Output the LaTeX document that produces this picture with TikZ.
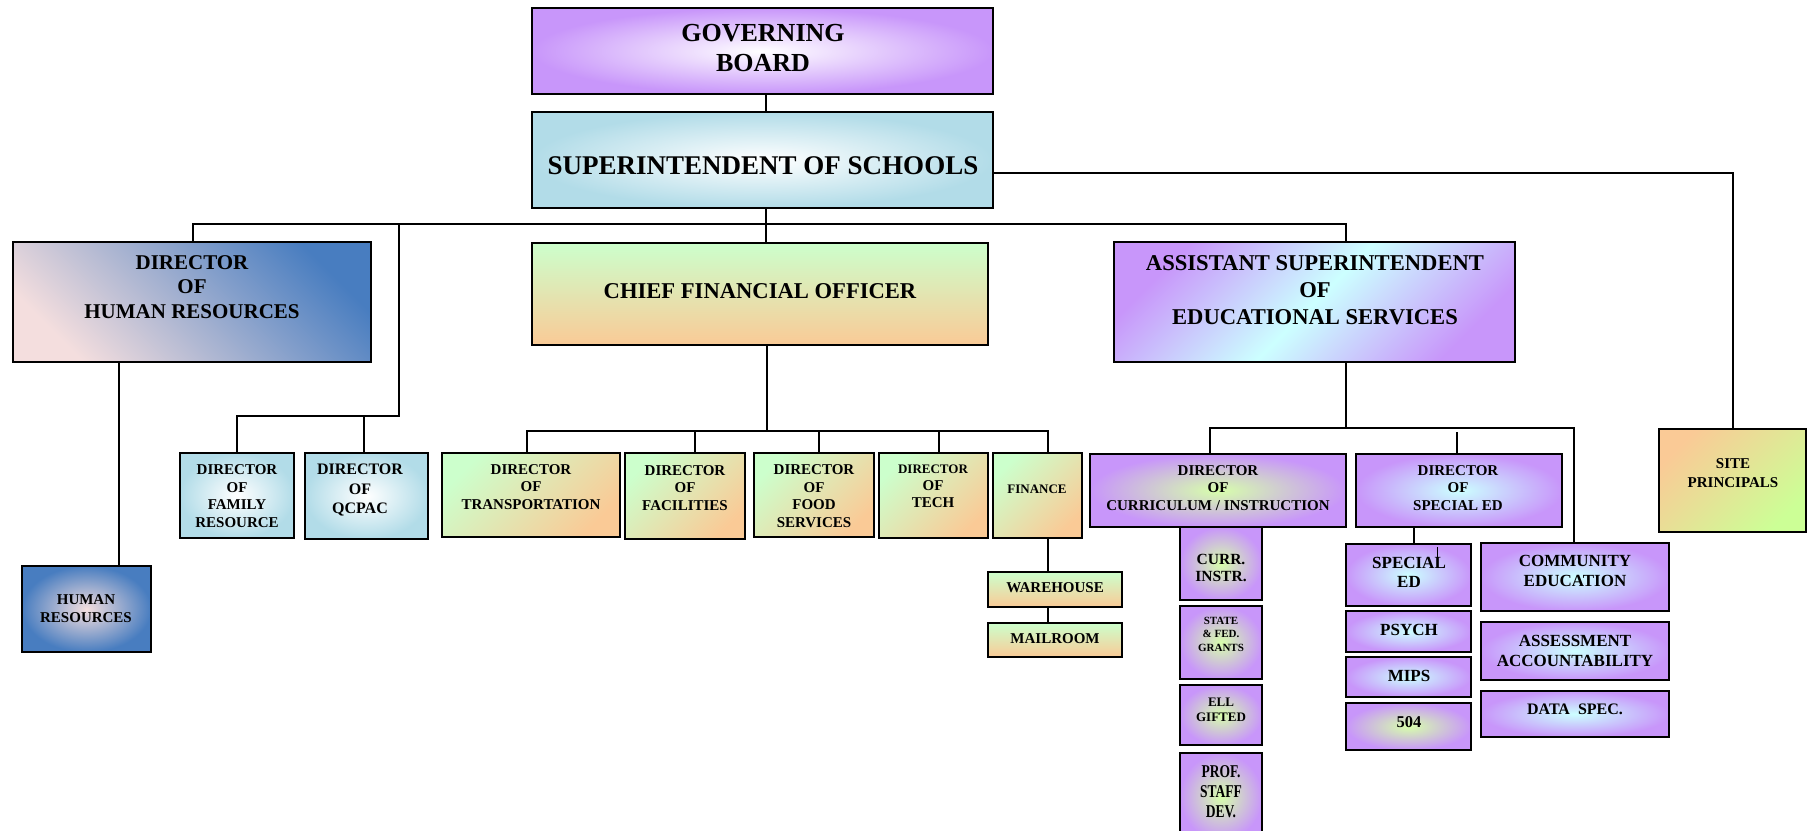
\documentclass[tikz,border=0pt]{standalone}
\usepackage{fontspec}
\setmainfont{Liberation Serif}
\usepackage{graphicx}
\definecolor{pur}{RGB}{200,150,250}
\definecolor{supblue}{RGB}{178,220,232}
\definecolor{hrblue}{RGB}{72,125,192}
\definecolor{hrpink}{RGB}{244,222,222}
\definecolor{lgreen}{RGB}{204,255,204}
\definecolor{lorange}{RGB}{250,202,150}
\definecolor{lcyan}{RGB}{204,255,255}
\definecolor{ygreen}{RGB}{215,255,170}
\definecolor{sgreen}{RGB}{204,255,150}
\definecolor{pblue}{RGB}{178,220,232}
\newcommand\obox[6]{\node[box,#6,minimum width={#4-#2},minimum height={#5-#3}] (#1) at ({(#2+#4)/2},{(#3+#5)/2}) {};}
\newcommand\olbl[6]{\node[lbl,fz={#4}{#5}] (#1) at (#2,#3) {#6};}
\begin{document}
\begin{tikzpicture}[x=1pt,y=-1pt,
  box/.style={draw=black, line width=2pt, rectangle, inner sep=0pt},
  lbl/.style={align=center, inner sep=0pt},
  fz/.style 2 args={font=\bfseries\fontsize{#1}{#2}\selectfont},
  con/.style={draw=black, line width=1.8pt},
  sBoard/.style={inner color=white, outer color=pur},
  sSup/.style={inner color=white, outer color=supblue},
  sHRD/.style={top color=hrblue, bottom color=hrpink, shading angle=-45},
  sCFO/.style={top color=lgreen, bottom color=lorange},
  sSub/.style={top color=lgreen, bottom color=lorange, shading angle=45},
  sSite/.style={top color=lorange, bottom color=sgreen, shading angle=45},
  sAsst/.style={left color=pur, right color=pur, middle color=lcyan, shading angle=45},
  sFam/.style={inner color=white, outer color=pblue},
  sHR/.style={inner color=hrpink, outer color=hrblue},
  sPG/.style={inner color=ygreen, outer color=pur},
  sPC/.style={inner color=lcyan, outer color=pur}]
\useasboundingbox (0,0) rectangle (1812,830);
\clip (0,0) rectangle (1812,830);
% boxes
\obox{board}{532}{8}{993}{94}{sBoard}
\obox{sup}{532}{112}{993}{208}{sSup}
\obox{hrd}{13}{242}{371}{362}{sHRD}
\obox{cfo}{532}{243}{988}{345}{sCFO}
\obox{asst}{1114}{242}{1515}{362}{sAsst}
\obox{fam}{180}{453}{294}{538}{sFam}
\obox{qc}{305}{453}{428}{539}{sFam}
\obox{hr}{22}{566}{151}{652}{sHR}
\obox{trans}{442}{453}{620}{537}{sSub}
\obox{fac}{625}{453}{745}{539}{sSub}
\obox{food}{754}{453}{874}{537}{sSub}
\obox{tech}{879}{453}{988}{538}{sSub}
\obox{fin}{993}{453}{1082}{538}{sSub}
\obox{wh}{988}{572}{1122}{607}{sCFO}
\obox{mail}{988}{623}{1122}{657}{sCFO}
\obox{dcur}{1090}{454}{1346}{527}{sPG}
\obox{dsp}{1356}{454}{1562}{527}{sPC}
\obox{site}{1659}{429}{1806}{532}{sSite}
\obox{ci}{1180}{527}{1262}{600}{sPG}
\obox{sfg}{1180}{606}{1262}{679}{sPG}
\obox{ell}{1180}{685}{1262}{745}{sPG}
\obox{prof}{1180}{753}{1262}{840}{sPG}
\obox{sped}{1346}{544}{1471}{606}{sPC}
\obox{psy}{1346}{611}{1471}{652}{sPC}
\obox{mips}{1346}{657}{1471}{697}{sPC}
\obox{ffour}{1346}{703}{1471}{750}{sPG}
\obox{comm}{1481}{543}{1669}{611}{sPC}
\obox{assess}{1481}{622}{1669}{680}{sPC}
\obox{data}{1481}{691}{1669}{737}{sPC}
% labels
\olbl{boardT}{763}{48}{26}{30}{GOVERNING\\BOARD}
\olbl{supT}{763}{166}{27}{31}{SUPERINTENDENT OF SCHOOLS}
\olbl{hrdT}{192}{287}{21}{24.5}{DIRECTOR\\OF\\HUMAN RESOURCES}
\olbl{cfoT}{760}{291}{22.6}{26}{CHIEF FINANCIAL OFFICER}
\olbl{asstT}{1315}{290}{22.6}{27}{ASSISTANT SUPERINTENDENT\\OF\\EDUCATIONAL SERVICES}
\olbl{famT}{237}{496}{15}{17.5}{DIRECTOR\\OF\\FAMILY\\RESOURCE}
\olbl{qcT}{360}{490}{16}{19.5}{DIRECTOR\\OF\\QCPAC}
\olbl{hrT}{86}{609}{15}{18}{HUMAN\\RESOURCES}
\olbl{transT}{531}{487}{15}{17.5}{DIRECTOR\\OF\\TRANSPORTATION}
\olbl{facT}{685}{488}{15}{17.5}{DIRECTOR\\OF\\FACILITIES}
\olbl{foodT}{814}{496}{15}{17.5}{DIRECTOR\\OF\\FOOD\\SERVICES}
\olbl{techT}{933}{486}{15}{17}{{\fontsize{13}{17}\selectfont DIRECTOR}\\OF\\TECH}
\olbl{finT}{1037}{489}{13}{15}{FINANCE}
\olbl{whT}{1055}{588}{15}{17}{WAREHOUSE}
\olbl{mailT}{1055}{639}{15}{17}{MAILROOM}
\olbl{dcurT}{1218}{488}{15}{17.5}{DIRECTOR\\OF\\CURRICULUM / INSTRUCTION}
\olbl{dspT}{1458}{488}{15}{17.5}{DIRECTOR\\OF\\SPECIAL ED}
\olbl{siteT}{1733}{473}{15}{19}{SITE\\PRINCIPALS}
\olbl{ciT}{1221}{568}{15.5}{17.5}{CURR.\\INSTR.}
\olbl{sfgT}{1221}{634}{11}{13.5}{STATE\\\&~FED.\\GRANTS}
\olbl{ellT}{1221}{710}{13}{15}{ELL\\GIFTED}
\olbl{profT}{1221}{792}{18}{20}{\scalebox{0.75}[1]{PROF.}\\\scalebox{0.75}[1]{STAFF}\\\scalebox{0.75}[1]{DEV.}}
\olbl{spedT}{1409}{572}{17}{19}{SPECIAL\\ED}
\olbl{psyT}{1409}{630}{17}{19}{PSYCH}
\olbl{mipsT}{1409}{676}{17}{19}{MIPS}
\olbl{ffourT}{1409}{722}{16.5}{19}{504}
\olbl{commT}{1575}{571}{17}{19.5}{COMMUNITY\\EDUCATION}
\olbl{assessT}{1575}{651}{17}{20}{ASSESSMENT\\ACCOUNTABILITY}
\olbl{dataT}{1575}{709}{16}{19}{DATA\ \ SPEC.}
% connectors
\coordinate (spine) at (766,0);
\draw[con] (board.south -| spine) -- (sup.north -| spine);
\draw[con] (sup.south -| spine) -- (cfo.north -| spine);
\coordinate (bL) at (193,224);
\coordinate (bR) at (1346,224);
\draw[con] (hrd.north -| bL) -- (bL) -- (bR) -- (asst.north -| bR);
\coordinate (q0) at (399,224);
\coordinate (q1) at (399,416);
\coordinate (xfam) at (237,0);
\coordinate (xqc) at (364,0);
\draw[con] (q0) -- (q1) -- (q1 -| xfam) -- (fam.north -| xfam);
\draw[con] (q1 -| xqc) -- (qc.north -| xqc);
\coordinate (xhr) at (119,0);
\draw[con] (hrd.south -| xhr) -- (hr.north -| xhr);
\coordinate (s0) at (993,173);
\coordinate (xs) at (1733,0);
\draw[con] (sup.east |- s0) -- (s0 -| xs) -- (site.north -| xs);
\coordinate (c1) at (767,431);
\draw[con] (cfo.south -| c1) -- (c1);
\coordinate (cL) at (527,431);
\coordinate (cR) at (1048,431);
\draw[con] (trans.north -| cL) -- (cL) -- (cR) -- (fin.north -| cR);
\coordinate (xfac) at (695,0);
\coordinate (xfood) at (819,0);
\coordinate (xtech) at (939,0);
\draw[con] (cL -| xfac) -- (fac.north -| xfac);
\draw[con] (cL -| xfood) -- (food.north -| xfood);
\draw[con] (cL -| xtech) -- (tech.north -| xtech);
\draw[con] (fin.south -| cR) -- (wh.north -| cR);
\draw[con] (wh.south -| cR) -- (mail.north -| cR);
\coordinate (a1) at (1346,428);
\draw[con] (asst.south -| a1) -- (a1);
\coordinate (aL) at (1210,428);
\coordinate (aR) at (1574,428);
\draw[con] (dcur.north -| aL) -- (aL) -- (aR) -- (comm.north -| aR);
\coordinate (d0) at (1457,432);
\draw[con] (d0) -- (dsp.north -| d0);
\coordinate (xsp) at (1414,0);
\draw[con] (dsp.south -| xsp) -- (sped.north -| xsp);
\coordinate (tk) at (1437,547);
\draw[line width=1pt] (tk) -- ++(0,11);
\end{tikzpicture}
\end{document}
